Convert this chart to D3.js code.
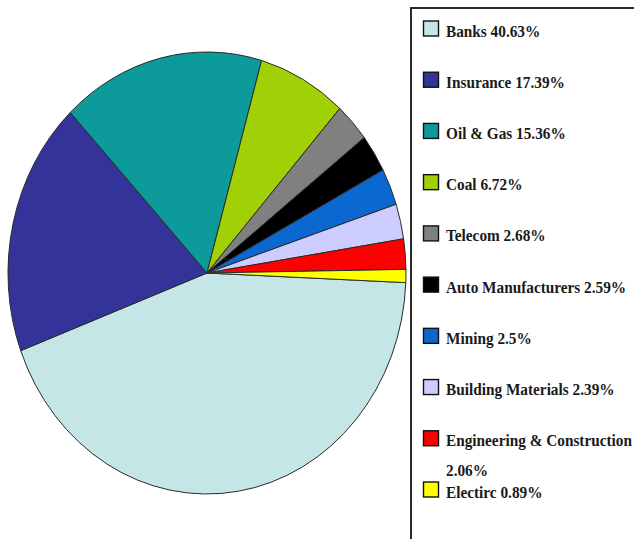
<!DOCTYPE html>
<html>
<head>
<meta charset="utf-8">
<script src="https://cdn.jsdelivr.net/npm/d3@7/dist/d3.min.js"></script>
<style>
  html, body { margin: 0; padding: 0; background: #ffffff; }
  svg { display: block; }
</style>
</head>
<body>
<svg id="chart" width="634" height="539"></svg>
<script>
// Sector weights (percent of portfolio), in drawing order
const categories = ["Banks", "Insurance", "Oil & Gas", "Coal", "Telecom",
  "Auto Manufacturers", "Mining", "Building Materials",
  "Engineering & Construction", "Electirc"];
const values = [40.63, 17.39, 15.36, 6.72, 2.68, 2.59, 2.5, 2.39, 2.06, 0.89];
const valueLabels = ["40.63%", "17.39%", "15.36%", "6.72%", "2.68%",
  "2.59%", "2.5%", "2.39%", "2.06%", "0.89%"];
const colors = ["#c4e6e6", "#343399", "#0c9a9a", "#a2d006", "#808080",
  "#000000", "#0a68d0", "#ccccff", "#ff0000", "#ffff00"];

const svg = d3.select("#chart");
const data = categories.map((c, i) => ({ name: c, value: values[i], label: valueLabels[i], color: colors[i] }));

// ---- Pie (slightly squashed horizontally) ----
const cx = 207, cy = 273, ry = 221, rx = 199;
const start = 92.5 * Math.PI / 180;
const pie = d3.pie().sort(null).value(d => d.value)
  .startAngle(start).endAngle(start + 2 * Math.PI);
const arc = d3.arc().innerRadius(0).outerRadius(ry);

svg.append("g")
  .attr("transform", `translate(${cx},${cy}) scale(${rx / ry},1)`)
  .selectAll("path")
  .data(pie(data))
  .join("path")
  .attr("d", arc)
  .attr("fill", d => d.data.color)
  .attr("stroke", "#2a2a2a")
  .attr("stroke-width", 1)
  .attr("vector-effect", "non-scaling-stroke")
  .attr("stroke-linejoin", "round");

// ---- Legend box ----
svg.append("rect")
  .attr("x", 411).attr("y", 8)
  .attr("width", 260).attr("height", 560)
  .attr("fill", "none")
  .attr("stroke", "#2b2b2b")
  .attr("stroke-width", 2);

const ly = d3.scalePoint().domain(categories).range([28.5, 489.5]);

const items = svg.append("g").selectAll("g")
  .data(data)
  .join("g")
  .attr("transform", d => `translate(0,${ly(d.name)})`);

items.append("rect")
  .attr("x", 423.5).attr("y", -7.5)
  .attr("width", 15).attr("height", 15)
  .attr("fill", d => d.color)
  .attr("stroke", "#111")
  .attr("stroke-width", 1.4);

const txt = items.append("text")
  .attr("transform", "translate(446,8) scale(0.9,1)")
  .attr("font-family", "'Liberation Serif', 'Times New Roman', serif")
  .attr("font-weight", "bold")
  .attr("font-size", 17)
  .attr("fill", "#1a1a1a");

txt.each(function (d) {
  const t = d3.select(this);
  if (d.name === "Engineering & Construction") {
    t.append("tspan").attr("x", 0).text(d.name);
    t.append("tspan").attr("x", 0).attr("dy", 30).text(d.label);
  } else {
    t.text(`${d.name} ${d.label}`);
  }
});
</script>
</body>
</html>
